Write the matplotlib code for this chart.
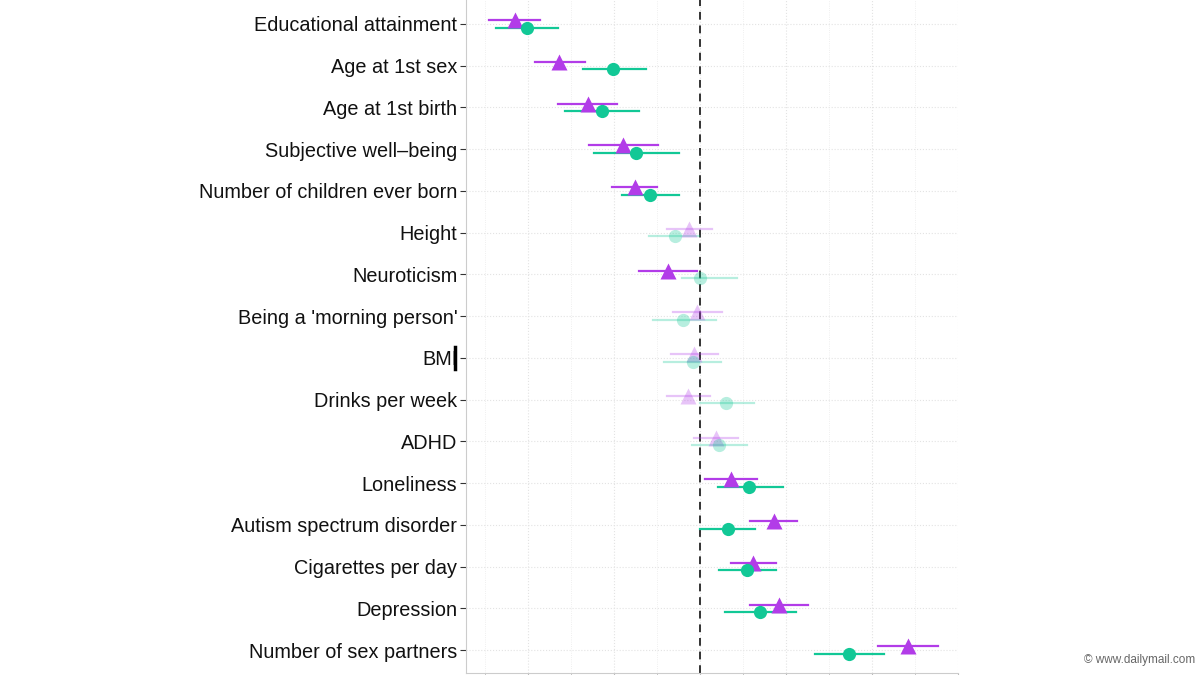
import matplotlib.pyplot as plt
from matplotlib.lines import Line2D
import numpy as np

plt.rcParams['font.family'] = ['Liberation Sans', 'DejaVu Sans']

# traits, top to bottom
traits = ["Educational attainment", "Age at 1st sex", "Age at 1st birth",
          "Subjective well\u2013being", "Number of children ever born", "Height",
          "Neuroticism", "Being a 'morning person'", "BMI", "Drinks per week",
          "ADHD", "Loneliness", "Autism spectrum disorder", "Cigarettes per day",
          "Depression", "Number of sex partners"]

# purple triangles: estimate, lower, upper
tri_est = [-0.215, -0.163, -0.130, -0.089, -0.075, -0.012, -0.037, -0.003,
           -0.006, -0.013, 0.019, 0.036, 0.086, 0.062, 0.092, 0.242]
tri_lo = [-0.245, -0.191, -0.164, -0.128, -0.102, -0.038, -0.070, -0.031,
          -0.033, -0.038, -0.007, 0.006, 0.059, 0.036, 0.059, 0.208]
tri_hi = [-0.186, -0.133, -0.096, -0.048, -0.049, 0.014, -0.003, 0.026,
          0.022, 0.012, 0.045, 0.067, 0.113, 0.089, 0.126, 0.277]
tri_sig = [1, 1, 1, 1, 1, 0, 1, 0, 0, 0, 0, 1, 1, 1, 1, 1]

# green circles: estimate, lower, upper
circ_est = [-0.201, -0.101, -0.114, -0.074, -0.058, -0.028, 0.001, -0.019,
            -0.008, 0.031, 0.023, 0.057, 0.033, 0.055, 0.070, 0.174]
circ_lo = [-0.237, -0.136, -0.157, -0.123, -0.090, -0.059, -0.020, -0.054,
           -0.041, 0.001, -0.009, 0.021, 0.001, 0.023, 0.030, 0.134]
circ_hi = [-0.164, -0.062, -0.070, -0.024, -0.024, -0.001, 0.043, 0.019,
           0.025, 0.063, 0.055, 0.097, 0.065, 0.089, 0.112, 0.215]
circ_sig = [1, 1, 1, 1, 1, 0, 0, 0, 0, 0, 0, 1, 1, 1, 1, 1]

purple = "#B23CE8"
green = "#12C896"

fig = plt.figure(figsize=(12, 6.75), dpi=100)
ax = fig.add_axes([0.388, 0.003, 0.410, 0.997])

n = len(traits)
y = np.arange(n, 0, -1)
off = 0.09

for i in range(n):
    a = 1.0 if tri_sig[i] else 0.3
    ax.plot([tri_lo[i], tri_hi[i]], [y[i] + off] * 2, color=purple, lw=1.6, alpha=a, zorder=3)
    ax.plot(tri_est[i], y[i] + off, marker='^', ms=11, color=purple, mec='none', alpha=a, zorder=4)
    a = 1.0 if circ_sig[i] else 0.3
    ax.plot([circ_lo[i], circ_hi[i]], [y[i] - off] * 2, color=green, lw=1.6, alpha=a, zorder=3)
    ax.plot(circ_est[i], y[i] - off, marker='o', ms=9.5, color=green, mec='none', alpha=a, zorder=4)

ax.axvline(0, color='#333333', lw=1.4, ls=(0, (4, 3)), zorder=2)

ax.set_xlim(-0.272, 0.3)
ax.set_ylim(0.45, 16.57)
ax.set_xticks([-0.2, -0.1, 0, 0.1, 0.2, 0.3])
ax.set_xticks([-0.25, -0.15, -0.05, 0.05, 0.15, 0.25], minor=True)
ax.set_xticklabels([])
ax.set_yticks(y)
ax.set_yticklabels(traits, fontsize=14.3, color='#111111')
ax.tick_params(axis='y', length=4, color='#333333', pad=2)
ax.tick_params(axis='x', which='both', length=3, color='#bbbbbb')

ax.grid(True, which='major', color='#e3e3e3', lw=0.8, ls=':')
ax.grid(True, which='minor', axis='x', color='#eaeaea', lw=0.6, ls=':')
ax.set_axisbelow(True)
for s in ['top', 'right']:
    ax.spines[s].set_visible(False)
ax.spines['left'].set_color('#cccccc')
ax.spines['bottom'].set_color('#cccccc')

# stray black bar over the BMI label (screenshot artefact)
fig.add_artist(Line2D([455 / 1200] * 2, [1 - 347 / 675, 1 - 369 / 675],
                      lw=2.5, color='black'))

fig.text(0.996, 0.022, "\u00a9 www.dailymail.com", ha='right', va='center',
         fontsize=8.5, color='#666666')

fig.savefig("out.png", dpi=100)
